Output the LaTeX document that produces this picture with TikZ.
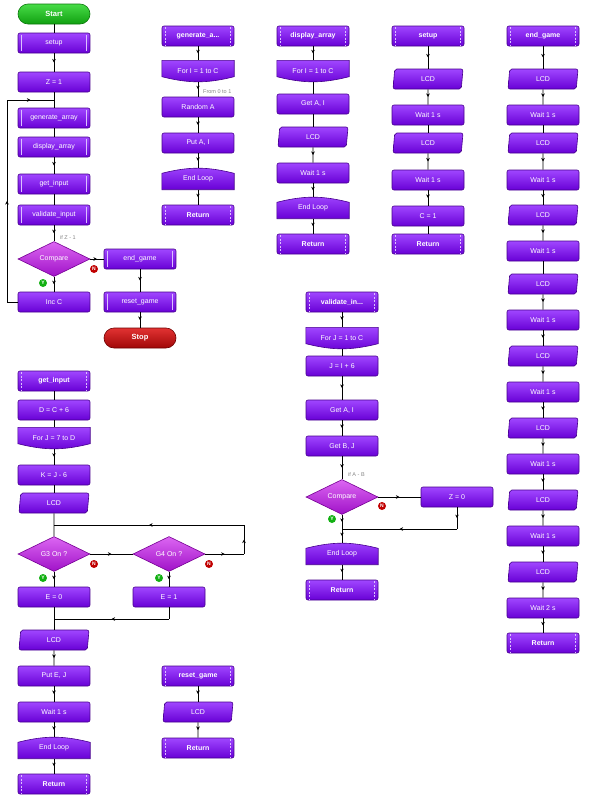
\documentclass[tikz,border=0pt]{standalone}
\usepackage{fontspec}
\setmainfont{Liberation Sans}
\usetikzlibrary{arrows.meta,positioning,shapes.geometric,decorations.markings,backgrounds}

\definecolor{boxtop}{HTML}{A046FF}
\definecolor{boxbot}{HTML}{6800D6}
\definecolor{boxedge}{HTML}{46008C}
\definecolor{linecol}{HTML}{DCC0FF}
\definecolor{dectop}{HTML}{DC66F2}
\definecolor{decbot}{HTML}{A012C8}
\definecolor{decedge}{HTML}{760094}
\definecolor{gotop}{HTML}{48DC48}
\definecolor{gobot}{HTML}{10A010}
\definecolor{goedge}{HTML}{0A780A}
\definecolor{stoptop}{HTML}{E23232}
\definecolor{stopbot}{HTML}{A00808}
\definecolor{stopedge}{HTML}{6E0000}
\definecolor{yescol}{HTML}{12B012}
\definecolor{nocol}{HTML}{C00000}
\definecolor{notecol}{HTML}{858585}

\begin{document}
\begin{tikzpicture}[x=1pt, y=-1pt,
font=\fontsize{7}{8}\selectfont,
box/.style={draw=boxedge, line width=0.6pt, top color=boxtop, bottom color=boxbot, rounded corners=2pt, minimum width=72pt, minimum height=20pt, inner sep=1pt, text=white},
sideline/.style={draw=linecol, line width=1pt},
sidedash/.style={draw=linecol, line width=1pt, dash pattern=on 2pt off 1.5pt},
call/.style={box, append after command={([xshift=3.5pt,yshift=-2pt]\tikzlastnode.north west) edge[sideline] ([xshift=3.5pt,yshift=2pt]\tikzlastnode.south west) ([xshift=-3.5pt,yshift=-2pt]\tikzlastnode.north east) edge[sideline] ([xshift=-3.5pt,yshift=2pt]\tikzlastnode.south east)}},
sub/.style={box, font=\fontsize{7}{8}\selectfont\bfseries, append after command={([xshift=3.5pt,yshift=-1.5pt]\tikzlastnode.north west) edge[sidedash] ([xshift=3.5pt,yshift=1.5pt]\tikzlastnode.south west) ([xshift=-3.5pt,yshift=-1.5pt]\tikzlastnode.north east) edge[sidedash] ([xshift=-3.5pt,yshift=1.5pt]\tikzlastnode.south east)}},
term/.style={box, draw=#1edge, top color=#1top, bottom color=#1bot, rounded corners=10pt, font=\fontsize{7.5}{8}\selectfont\bfseries},
lcd/.style={box, trapezium, trapezium left angle=76, trapezium right angle=104, trapezium stretches body, minimum width=70pt},
loopbox/.style={minimum width=72pt, minimum height=21pt, inner sep=1pt, text=white},
loopfill/.style={draw=boxedge, line width=0.6pt, top color=boxtop, bottom color=boxbot},
decide/.style={diamond, draw=decedge, line width=0.6pt, top color=dectop, bottom color=decbot, minimum width=72pt, minimum height=35pt, inner sep=0pt, aspect=2, text=white},
yes/.style={circle, fill=yescol, inner sep=0pt, minimum size=8pt, text=white, font=\fontsize{5}{5}\selectfont\bfseries},
no/.style={circle, fill=nocol, inner sep=0pt, minimum size=8pt, text=white, font=\fontsize{5}{5}\selectfont\bfseries},
note/.style={text=notecol, anchor=west, inner sep=0pt, font=\fontsize{5.5}{6}\selectfont},
wire/.style={draw, line width=0.7pt},
flow/.style={wire, postaction={decorate}, decoration={markings, mark=at position 0.5 with {\arrow{Stealth[length=3.5pt,width=3.5pt]}}}}
]
\useasboundingbox (0,0) rectangle (589,809);

% main program
\node[term=go] (start) at (54,14) {Start};
\node[call] (msetup) at (54,43) {setup};
\node[box] (z1) at (54,82) {Z = 1};
\coordinate (jz) at (54,100);
\node[call] (mgen) at (54,118) {generate\_array};
\node[call] (mdisp) at (54,147) {display\_array};
\node[call] (mget) at (54,184) {get\_input};
\node[call] (mval) at (54,215) {validate\_input};
\node[note] (ifz) at (60,238) {if Z - 1};
\node[decide] (cmp1) at (54,259) {Compare};
\node[box] (incc) at (54,302) {Inc C};
\node[call] (mend) at (140,259) {end\_game};
\node[call] (mreset) at (140,302) {reset\_game};
\node[term=stop] (stop) at (140,338) {Stop};
\node[yes] (y1) at (43,283) {Y};
\node[no] (n1) at (94,269) {N};
\coordinate (m1) at (7,302);
\coordinate (m2) at (7,100);

\draw[wire] (start) -- (msetup);
\draw[flow] (msetup) -- (z1);
\draw[wire] (z1) -- (mgen);
\draw[wire] (mgen) -- (mdisp);
\draw[flow] (mdisp) -- (mget);
\draw[wire] (mget) -- (mval);
\draw[flow] (mval) -- (cmp1);
\draw[flow] (cmp1) -- (incc);
\draw[flow] (cmp1) -- (mend);
\draw[flow] (mend) -- (mreset);
\draw[flow] (mreset) -- (stop);
\draw[wire] (incc) -- (m1);
\draw[flow] (m1) -- (m2);
\draw[flow] (m2) -- (jz);

% generate_array
\node[sub] (gh) at (198,36) {generate\_a...};
\node[loopbox] (gfor) at (198,71) {For I = 1 to C};
\node[note] (from) at (203,92) {From 0 to 1};
\node[box] (grand) at (198,107) {Random A};
\node[box] (gput) at (198,143) {Put A, I};
\node[loopbox] (gend) at (198,179) {End Loop};
\node[sub] (gret) at (198,215) {Return};
\draw[flow] (gh) -- (gfor);
\draw[flow] (gfor) -- (grand);
\draw[flow] (grand) -- (gput);
\draw[flow] (gput) -- (gend);
\draw[flow] (gend) -- (gret);

% display_array
\node[sub] (dh) at (313,36) {display\_array};
\node[loopbox] (dfor) at (313,71) {For I = 1 to C};
\node[box] (dget) at (313,104) {Get A, I};
\node[lcd] (dlcd) at (313,137) {LCD};
\node[box] (dwait) at (313,173) {Wait 1 s};
\node[loopbox] (dend) at (313,208) {End Loop};
\node[sub] (dret) at (313,244) {Return};
\draw[flow] (dh) -- (dfor);
\draw[wire] (dfor) -- (dget);
\draw[wire] (dget) -- (dlcd);
\draw[flow] (dlcd) -- (dwait);
\draw[flow] (dwait) -- (dend);
\draw[flow] (dend) -- (dret);

% setup
\node[sub] (sh) at (428,36) {setup};
\node[lcd] (sl1) at (428,79) {LCD};
\node[box] (sw1) at (428,115) {Wait 1 s};
\node[lcd] (sl2) at (428,143) {LCD};
\node[box] (sw2) at (428,180) {Wait 1 s};
\node[box] (sc) at (428,216) {C = 1};
\node[sub] (sret) at (428,244) {Return};
\draw[flow] (sh) -- (sl1);
\draw[flow] (sl1) -- (sw1);
\draw[wire] (sw1) -- (sl2);
\draw[flow] (sl2) -- (sw2);
\draw[flow] (sw2) -- (sc);
\draw[wire] (sc) -- (sret);

% end_game
\node[sub] (eh) at (543,36) {end\_game};
\node[lcd] (el1) at (543,79) {LCD};
\node[box] (ew1) at (543,115) {Wait 1 s};
\node[lcd] (el2) at (543,143) {LCD};
\node[box] (ew2) at (543,180) {Wait 1 s};
\node[lcd] (el3) at (543,215) {LCD};
\node[box] (ew3) at (543,251) {Wait 1 s};
\node[lcd] (el4) at (543,284) {LCD};
\node[box] (ew4) at (543,320) {Wait 1 s};
\node[lcd] (el5) at (543,356) {LCD};
\node[box] (ew5) at (543,392) {Wait 1 s};
\node[lcd] (el6) at (543,428) {LCD};
\node[box] (ew6) at (543,464) {Wait 1 s};
\node[lcd] (el7) at (543,500) {LCD};
\node[box] (ew7) at (543,536) {Wait 1 s};
\node[lcd] (el8) at (543,572) {LCD};
\node[box] (ew8) at (543,608) {Wait 2 s};
\node[sub] (eret) at (543,643) {Return};
\draw[flow] (eh) -- (el1);
\draw[flow] (el1) -- (ew1);
\draw[wire] (ew1) -- (el2);
\draw[flow] (el2) -- (ew2);
\draw[flow] (ew2) -- (el3);
\draw[flow] (el3) -- (ew3);
\draw[wire] (ew3) -- (el4);
\draw[flow] (el4) -- (ew4);
\draw[flow] (ew4) -- (el5);
\draw[flow] (el5) -- (ew5);
\draw[flow] (ew5) -- (el6);
\draw[flow] (el6) -- (ew6);
\draw[flow] (ew6) -- (el7);
\draw[flow] (el7) -- (ew7);
\draw[flow] (ew7) -- (el8);
\draw[flow] (el8) -- (ew8);
\draw[flow] (ew8) -- (eret);

% validate_input
\node[sub] (vh) at (342,302) {validate\_in...};
\node[loopbox] (vfor) at (342,338) {For J = 1 to C};
\node[box] (vj) at (342,366) {J = I + 6};
\node[box] (vga) at (342,410) {Get A, I};
\node[box] (vgb) at (342,446) {Get B, J};
\node[note] (ifab) at (348,475) {if A - B};
\node[decide] (cmp2) at (342,497) {Compare};
\node[box] (z0) at (457,497) {Z = 0};
\node[yes] (y2) at (332,519) {Y};
\node[no] (n2) at (382,506) {N};
\coordinate (jv) at (342,529);
\coordinate (v1) at (457,529);
\node[loopbox] (vend) at (342,554) {End Loop};
\node[sub] (vret) at (342,590) {Return};
\draw[flow] (vh) -- (vfor);
\draw[wire] (vfor) -- (vj);
\draw[flow] (vj) -- (vga);
\draw[flow] (vga) -- (vgb);
\draw[flow] (vgb) -- (cmp2);
\draw[flow] (cmp2) -- (z0);
\draw[flow] (cmp2) -- (jv);
\draw[flow] (z0) -- (v1);
\draw[flow] (v1) -- (jv);
\draw[flow] (jv) -- (vend);
\draw[flow] (vend) -- (vret);

% get_input
\node[sub] (ih) at (54,381) {get\_input};
\node[box] (id) at (54,410) {D = C + 6};
\node[loopbox] (ifor) at (54,438) {For J = 7 to D};
\node[box] (ik) at (54,475) {K = J - 6};
\node[lcd] (il1) at (54,503) {LCD};
\coordinate (jg) at (54,525);
\node[decide] (g3) at (54,554) {G3 On ?};
\node[decide] (g4) at (169,554) {G4 On ?};
\node[yes] (y3) at (43,578) {Y};
\node[no] (n3) at (94,564) {N};
\node[yes] (y4) at (159,578) {Y};
\node[no] (n4) at (209,564) {N};
\coordinate (r1) at (244,554);
\coordinate (r2) at (244,525);
\node[box] (e0) at (54,597) {E = 0};
\node[box] (e1) at (169,597) {E = 1};
\coordinate (g1) at (169,619);
\coordinate (je) at (54,619);
\node[lcd] (il2) at (54,640) {LCD};
\node[box] (iput) at (54,676) {Put E, J};
\node[box] (iwait) at (54,712) {Wait 1 s};
\node[loopbox] (iend) at (54,748) {End Loop};
\node[sub] (iret) at (54,784) {Return};
\draw[wire] (ih) -- (id);
\draw[wire] (id) -- (ifor);
\draw[flow] (ifor) -- (ik);
\draw[wire] (ik) -- (il1);
\draw[wire] (il1) -- (g3);
\draw[flow] (g3) -- (g4);
\draw[flow] (g4) -- (r1);
\draw[flow] (r1) -- (r2);
\draw[flow] (r2) -- (jg);
\draw[flow] (g3) -- (e0);
\draw[flow] (g4) -- (e1);
\draw[wire] (e0) -- (il2);
\draw[wire] (e1) -- (g1);
\draw[flow] (g1) -- (je);
\draw[flow] (il2) -- (iput);
\draw[flow] (iput) -- (iwait);
\draw[flow] (iwait) -- (iend);
\draw[flow] (iend) -- (iret);

% reset_game
\node[sub] (rh) at (198,676) {reset\_game};
\node[lcd] (rl) at (198,712) {LCD};
\node[sub] (rret) at (198,748) {Return};
\draw[flow] (rh) -- (rl);
\draw[flow] (rl) -- (rret);

% loop start / loop end outlines
\begin{scope}[on background layer]
\foreach \n in {gfor,dfor,vfor,ifor}
  \draw[loopfill] (\n.north west) -- (\n.north east) -- ([yshift=5pt]\n.south east) to[bend left=14] ([yshift=5pt]\n.south west) -- cycle;
\foreach \n in {gend,dend,vend,iend}
  \draw[loopfill] (\n.south east) -- (\n.south west) -- ([yshift=-5pt]\n.north west) to[bend left=14] ([yshift=-5pt]\n.north east) -- cycle;
\end{scope}
\end{tikzpicture}
\end{document}
